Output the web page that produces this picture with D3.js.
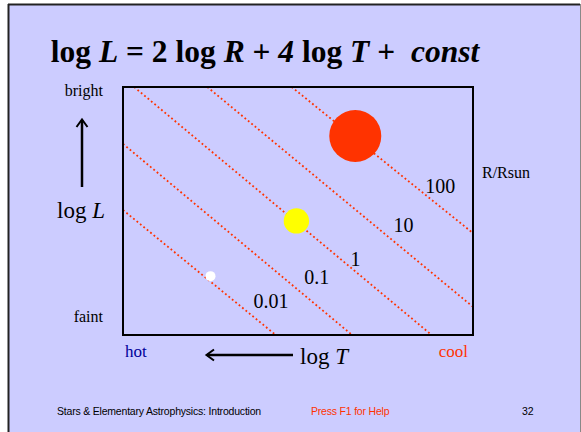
<!DOCTYPE html>
<html>
<head>
<meta charset="utf-8">
<script src="https://cdn.jsdelivr.net/npm/d3@7"></script>
<style>
  html, body { margin: 0; padding: 0; background: #fff; }
  text { font-family: "Liberation Serif", "Times New Roman", serif; }
</style>
</head>
<body>
<div id="slide"></div>
<script>
// lines of constant radius (R/Rsun): endpoints as [log T, log L]
var radii = ["0.01", "0.1", "1", "10", "100"];
var lineStart = [[4.80, 0.28], [4.80, 2.28], [4.73, 4.00], [4.27, 4.00], [3.74, 4.00]];
var lineEnd = [[3.84, -3.50], [3.36, -3.50], [2.86, -3.50], [2.60, -2.65], [2.60, -0.42]];
// where each radius label sits, [log T, log L]
var labelPos = [[3.98, -2.68], [3.66, -1.96], [3.37, -1.41], [3.10, -0.39], [2.90, 0.79]];

// three example stars
var starNames = ["white dwarf", "Sun", "red giant"];
var starLogT = [4.25, 3.71, 3.34];
var starLogL = [-1.72, -0.05, 2.52];
var starR = [0.01, 1, 100];
var starColors = ["#ffffff", "#ffff00", "#ff3300"];

var width = 581,
    height = 432,
    box = {left: 123, top: 87, right: 473, bottom: 335};

var svg = d3.select("#slide")
    .append("svg")
    .attr("width", width)
    .attr("height", height);

// slide background + frame
svg.append("rect")
    .attr("x", 9).attr("y", 5)
    .attr("width", 571).attr("height", 440)
    .style("fill", "#ccccff");
svg.append("line").attr("x1", 8.5).attr("y1", 4).attr("x2", 8.5).attr("y2", height)
    .style("stroke", "#222").style("stroke-width", 2);
svg.append("line").attr("x1", 8).attr("y1", 4.5).attr("x2", 580).attr("y2", 4.5)
    .style("stroke", "#222").style("stroke-width", 2);
svg.append("line").attr("x1", 580.5).attr("y1", 4).attr("x2", 580.5).attr("y2", height)
    .style("stroke", "#888").style("stroke-width", 1);

// title
var title = svg.append("text")
    .attr("x", 265).attr("y", 62)
    .attr("text-anchor", "middle")
    .style("font-size", "31.5px")
    .style("font-weight", "bold")
    .style("white-space", "pre");
[["log ", false], ["L", true], [" = 2 log ", false], ["R", true], [" + ", false],
 ["4", true], [" log ", false], ["T", true], [" +  ", false], ["const", true]]
    .forEach(p => {
        title.append("tspan").text(p[0]).style("font-style", p[1] ? "italic" : "normal");
    });

var xScale = d3.scaleLinear().domain([4.8, 2.6]).range([box.left, box.right]);
var yScale = d3.scaleLinear().domain([-3.5, 4.0]).range([box.bottom, box.top]);
var rScale = d3.scaleLinear().domain([-2, 0, 2]).range([5, 12.7, 26]);

// radius lines
var lines = radii.map((r, i) => ({r: r, a: lineStart[i], b: lineEnd[i], lab: labelPos[i]}));

svg.selectAll(".rline")
    .data(lines)
    .enter().append("line")
    .attr("class", "rline")
    .attr("x1", d => xScale(d.a[0]))
    .attr("y1", d => yScale(d.a[1]))
    .attr("x2", d => xScale(d.b[0]))
    .attr("y2", d => yScale(d.b[1]))
    .style("stroke", "#ff3300")
    .style("stroke-width", 1.8)
    .style("stroke-dasharray", "1.8,2.6");

svg.selectAll(".rlabel")
    .data(lines)
    .enter().append("text")
    .attr("class", "rlabel")
    .attr("x", d => xScale(d.lab[0]))
    .attr("y", d => yScale(d.lab[1]))
    .style("font-size", "20px")
    .style("fill", "#000")
    .text(d => d.r);

// stars
var stars = starNames.map((n, i) => ({name: n, t: starLogT[i], l: starLogL[i], r: starR[i], c: starColors[i]}));
svg.selectAll(".star")
    .data(stars)
    .enter().append("circle")
    .attr("class", "star")
    .attr("cx", d => xScale(d.t))
    .attr("cy", d => yScale(d.l))
    .attr("r", d => rScale(Math.log10(d.r)))
    .style("fill", d => d.c);

// plot box
svg.append("rect")
    .attr("x", xScale.range()[0])
    .attr("y", yScale.range()[1])
    .attr("width", xScale.range()[1] - xScale.range()[0])
    .attr("height", yScale.range()[0] - yScale.range()[1])
    .style("fill", "none")
    .style("stroke", "#000")
    .style("stroke-width", 2);

// y axis annotations
svg.append("text").attr("x", 103).attr("y", 96).attr("text-anchor", "end")
    .style("font-size", "16px").text("bright");
svg.append("text").attr("x", 103).attr("y", 322).attr("text-anchor", "end")
    .style("font-size", "16px").text("faint");
var logL = svg.append("text").attr("x", 81).attr("y", 218).attr("text-anchor", "middle")
    .style("font-size", "23px");
logL.append("tspan").text("log ");
logL.append("tspan").style("font-style", "italic").text("L");

svg.append("line").attr("x1", 82).attr("y1", 187).attr("x2", 82).attr("y2", 120)
    .style("stroke", "#000").style("stroke-width", 2.5);
svg.append("path").attr("d", "M76.5,127 L82,119.5 L87.5,127")
    .style("fill", "none").style("stroke", "#000").style("stroke-width", 2);

// x axis annotations
svg.append("text").attr("x", 125).attr("y", 357)
    .style("font-size", "17px").style("fill", "#000099").text("hot");
svg.append("text").attr("x", 468).attr("y", 357).attr("text-anchor", "end")
    .style("font-size", "17px").style("fill", "#ff3300").text("cool");
var logT = svg.append("text").attr("x", 300).attr("y", 364)
    .style("font-size", "23px");
logT.append("tspan").text("log ");
logT.append("tspan").style("font-style", "italic").text("T");

svg.append("line").attr("x1", 293).attr("y1", 355).attr("x2", 207).attr("y2", 355)
    .style("stroke", "#000").style("stroke-width", 2.5);
svg.append("path").attr("d", "M214,349.5 L206.5,355 L214,360.5")
    .style("fill", "none").style("stroke", "#000").style("stroke-width", 2);

svg.append("text").attr("x", 482).attr("y", 178)
    .style("font-size", "16px").text("R/Rsun");

// footer
var foot = [["Stars & Elementary Astrophysics: Introduction", 57, "#000"],
            ["Press F1 for Help", 311, "#ff3300"],
            ["32", 522, "#000"]];
svg.selectAll(".foot")
    .data(foot)
    .enter().append("text")
    .attr("class", "foot")
    .attr("x", d => d[1])
    .attr("y", 415)
    .style("font-family", "'Liberation Sans', Arial, sans-serif")
    .style("font-size", "10.5px")
    .style("letter-spacing", "-0.2px")
    .style("fill", d => d[2])
    .text(d => d[0]);
</script>
</body>
</html>
